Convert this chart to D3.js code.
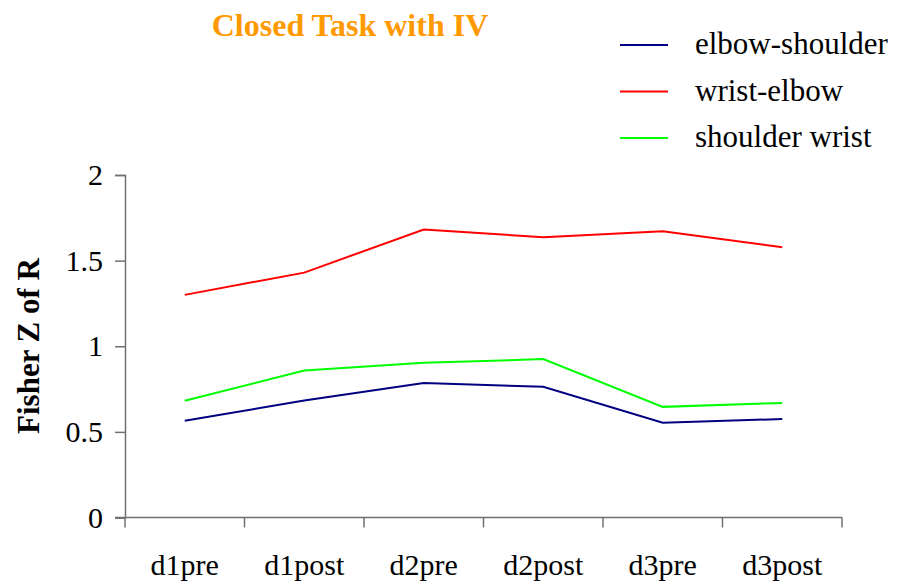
<!DOCTYPE html>
<html>
<head>
<meta charset="utf-8">
<script src="https://cdn.jsdelivr.net/npm/d3@7"></script>
<style>
  body { margin: 0; background: #fff; }
  text { font-family: "Liberation Serif", "Times New Roman", serif; }
</style>
</head>
<body>
<script>
var categories = ['d1pre', 'd1post', 'd2pre', 'd2post', 'd3pre', 'd3post'];
var elbowShoulder = [0.565, 0.683, 0.785, 0.763, 0.553, 0.575];
var wristElbow = [1.30, 1.43, 1.682, 1.637, 1.672, 1.578];
var shoulderWrist = [0.682, 0.858, 0.903, 0.925, 0.646, 0.669];
var yTicks = [0, 0.5, 1, 1.5, 2];
var seriesNames = ['elbow-shoulder', 'wrist-elbow', 'shoulder wrist'];
var seriesColors = ['#000080', '#ff0000', '#00ff00'];

var w = 898, h = 584;
var plotLeft = 125, plotRight = 842, plotTop = 175, plotBottom = 517.5;

var svg = d3.select('body')
  .append('svg')
  .attr('width', w)
  .attr('height', h);

var x = d3.scaleBand().domain(categories).range([plotLeft, plotRight]);
var y = d3.scaleLinear().domain([0, 2]).range([plotBottom, plotTop]);

// y axis
var yAxis = svg.append('g')
  .attr('transform', 'translate(' + plotLeft + ',0)')
  .call(d3.axisLeft(y).tickValues(yTicks).tickSize(10).tickPadding(12)
    .tickFormat(function (d) { return d; }));
yAxis.select('.domain').attr('stroke', '#707070').attr('stroke-width', 1.5);
yAxis.selectAll('.tick line').attr('stroke', '#707070').attr('stroke-width', 1.5);
yAxis.selectAll('.tick text')
  .attr('font-size', '30px')
  .attr('font-family', 'Liberation Serif')
  .attr('fill', '#000');

// x axis: labels centered in bands, ticks at band edges
var xAxis = svg.append('g')
  .attr('transform', 'translate(0,' + plotBottom + ')')
  .call(d3.axisBottom(x).tickSize(0).tickPadding(36));
xAxis.select('.domain').remove();
xAxis.selectAll('.tick text')
  .attr('font-size', '30px')
  .attr('font-family', 'Liberation Serif')
  .attr('fill', '#000');

svg.append('line')
  .attr('x1', plotLeft - 10).attr('x2', plotRight)
  .attr('y1', plotBottom).attr('y2', plotBottom)
  .attr('stroke', '#707070').attr('stroke-width', 1.5);

var edges = categories.map(function (d) { return x(d); }).concat([plotRight]);
svg.selectAll('line.xtick').data(edges)
  .enter()
  .append('line')
  .attr('class', 'xtick')
  .attr('x1', function (d) { return d; })
  .attr('x2', function (d) { return d; })
  .attr('y1', plotBottom)
  .attr('y2', plotBottom + 10)
  .attr('stroke', '#707070')
  .attr('stroke-width', 1.5);

// lines
var line = d3.line()
  .x(function (d, i) { return x(categories[i]) + x.bandwidth() / 2; })
  .y(function (d) { return y(d); });

var allSeries = [elbowShoulder, wristElbow, shoulderWrist];
svg.selectAll('path.series').data(allSeries)
  .enter()
  .append('path')
  .attr('class', 'series')
  .attr('d', line)
  .attr('fill', 'none')
  .attr('stroke', function (d, i) { return seriesColors[i]; })
  .attr('stroke-width', 2);

// title
svg.append('text')
  .text('Closed Task with IV')
  .attr('x', 350)
  .attr('y', 36)
  .attr('text-anchor', 'middle')
  .attr('font-size', '32px')
  .attr('font-weight', 'bold')
  .attr('fill', '#ff9900');

// y label
svg.append('text')
  .text('Fisher Z of R')
  .attr('transform', 'translate(39,346) rotate(-90)')
  .attr('text-anchor', 'middle')
  .attr('font-size', '31px')
  .attr('font-weight', 'bold')
  .attr('fill', '#000');

// legend
var legend = svg.selectAll('g.legend').data(seriesNames)
  .enter()
  .append('g')
  .attr('class', 'legend')
  .attr('transform', function (d, i) { return 'translate(620,' + (45 + i * 46.5) + ')'; });
legend.append('line')
  .attr('x1', 0).attr('x2', 48)
  .attr('y1', 0).attr('y2', 0)
  .attr('stroke', function (d, i) { return seriesColors[i]; })
  .attr('stroke-width', 2);
legend.append('text')
  .text(function (d) { return d; })
  .attr('x', 75)
  .attr('y', 9)
  .attr('font-size', '31px')
  .attr('fill', '#000');
</script>
</body>
</html>
